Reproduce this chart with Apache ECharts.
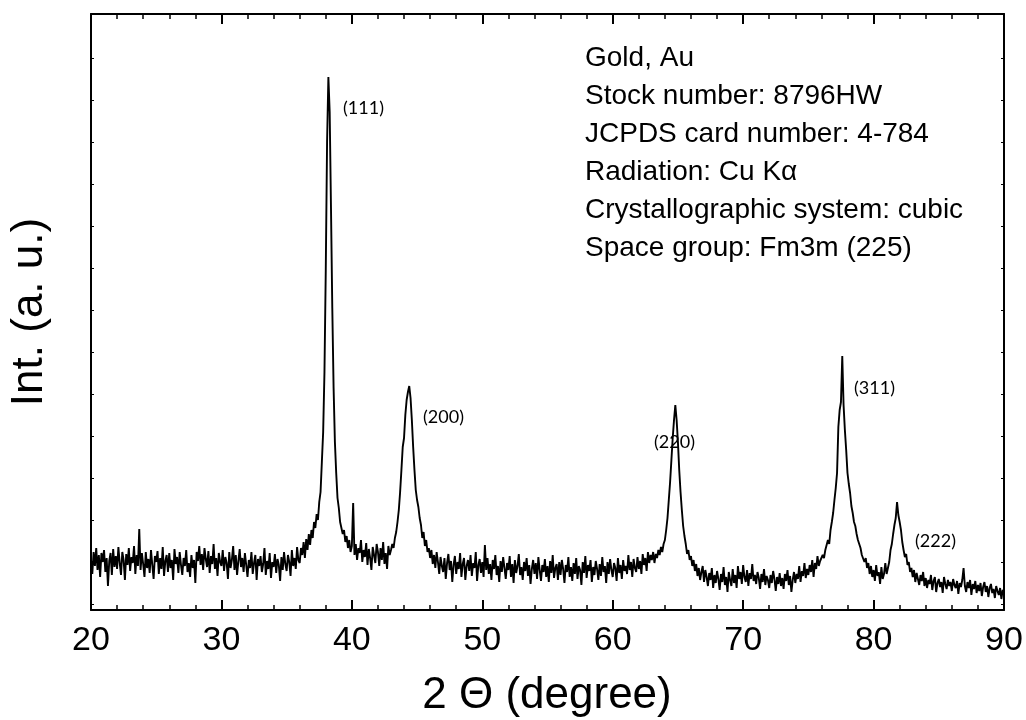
<!DOCTYPE html>
<html>
<head>
<meta charset="utf-8">
<script src="https://cdn.jsdelivr.net/npm/echarts@6/dist/echarts.min.js"></script>
<style>
html,body{margin:0;padding:0;background:#fff;}
#c{width:1026px;height:720px;}
</style>
</head>
<body>
<div id="c"></div>
<script>
// 2-theta grid: 20.0 .. 90.0 degrees, 0.1 degree step
var thetaStart = 20, thetaStep = 0.1;
// Intensity (a.u.), one row per degree (x.0 .. x.9)
var intensity = [
 50,36,58,44,62,40,55,33,57,48,   // 20
 60,38,52,24,49,57,35,61,43,54,   // 21
 41,63,47,35,58,50,30,56,45,62,   // 22
 39,53,47,64,36,55,44,81,40,57,   // 23
 46,33,58,42,51,37,60,45,31,54,   // 24
 48,59,36,52,41,63,34,49,55,38,   // 25
 57,42,50,30,61,46,53,37,58,45,   // 26
 35,52,44,60,38,47,33,55,42,50,   // 27
 27,58,49,64,45,56,40,62,51,43,   // 28
 59,37,54,46,66,41,52,34,57,48,   // 29
 44,60,39,53,47,31,58,42,50,64,   // 30
 40,55,35,49,61,43,52,38,57,45,   // 31
 33,50,42,58,36,47,55,30,51,44,   // 32
 54,38,46,62,35,49,41,57,32,48,   // 33
 43,56,37,51,45,29,53,40,58,46,   // 34
 39,55,48,34,60,44,52,41,63,50,   // 35
 47,62,55,68,52,71,60,76,65,80,   // 36
 72,88,82,96,90,108,118,148,178,238, // 37
 340,468,533,498,402,302,222,168,137,112, // 38
 102,88,90,76,80,68,74,62,70,58,  // 39
 64,107,55,66,50,62,57,70,48,60,  // 40
 53,67,45,61,52,40,63,55,47,66,   // 41
 58,44,62,50,68,46,57,41,64,55,   // 42
 60,66,62,72,78,88,100,118,140,163, // 43
 172,195,210,218,224,212,190,163,140,120, // 44
 110,103,92,85,72,78,64,70,58,62, // 45
 52,60,46,55,42,58,48,36,53,44,   // 46
 38,52,31,47,56,40,49,28,45,54,   // 47
 36,48,41,57,33,46,52,30,44,50,   // 48
 39,55,34,47,42,58,29,45,51,37,   // 49
 48,33,65,40,52,36,46,30,50,41,   // 50
 55,35,44,28,49,38,53,42,31,47,   // 51
 40,54,33,46,27,50,37,44,56,35,   // 52
 43,30,48,39,52,34,45,26,41,50,   // 53
 36,47,31,53,40,29,45,38,51,33,   // 54
 44,28,49,37,55,32,42,46,30,48,   // 55
 35,50,41,27,45,38,53,33,43,29,   // 56
 47,36,52,31,44,40,25,48,37,54,   // 57
 32,45,39,50,28,43,35,49,41,30,   // 58
 46,34,53,38,44,27,48,36,51,40,   // 59
 33,47,42,29,52,37,45,31,50,39,   // 60
 44,36,55,40,48,33,51,42,38,53,   // 61
 41,49,36,56,45,52,39,58,47,55,   // 62
 50,58,47,56,52,60,55,63,58,66,   // 63
 70,80,92,110,128,150,172,190,205,190, // 64
 168,140,118,100,84,74,66,56,60,50, // 65
 54,44,50,39,46,34,42,30,38,44,   // 66
 28,40,33,24,37,30,42,22,35,27,   // 67
 39,31,20,36,28,43,25,33,18,38,   // 68
 30,24,41,27,35,22,44,31,38,26,   // 69
 45,33,28,40,24,37,31,46,29,35,   // 70
 26,38,32,21,36,28,41,25,34,30,   // 71
 22,35,27,39,31,19,33,26,37,24,   // 72
 32,21,36,29,40,25,34,18,30,38,   // 73
 27,36,31,44,28,39,34,47,32,41,   // 74
 35,45,38,50,33,47,41,54,44,49,   // 75
 50,55,52,60,58,70,66,80,88,97,   // 76
 110,122,137,183,200,208,254,205,180,160, // 77
 137,126,117,104,97,88,84,76,70,66, // 78
 62,55,57,48,52,42,47,36,44,33,   // 79
 40,29,45,34,38,26,43,31,36,47,   // 80
 36,42,48,60,66,76,85,92,108,95,  // 81
 88,80,68,60,53,56,45,48,38,42,   // 82
 33,40,28,37,31,25,35,29,38,24,   // 83
 32,22,30,26,35,20,29,33,18,27,   // 84
 31,23,28,17,33,26,21,30,24,28,   // 85
 19,31,25,22,29,16,27,23,30,42,   // 86
 24,18,28,22,30,15,26,21,29,17,   // 87
 25,19,27,14,23,28,18,24,13,22,   // 88
 26,17,21,12,24,19,15,22,11,20,   // 89
 18                                // 90
];
var xTickLabels = ['20','30','40','50','60','70','80','90'];
var yTickValues = [6,48,90,132,174,216,258,300,342,384,426,468,510,552];
var peakLabels = ['(111)','(200)','(220)','(311)','(222)'];
var infoLines = ['Gold, Au','Stock number: 8796HW','JCPDS card number: 4-784','Radiation: Cu K\u03B1','Crystallographic system: cubic','Space group: Fm3m (225)'];

var seriesData = intensity.map(function(v,i){ return [+(thetaStart + i*thetaStep).toFixed(1), v]; });

var chart = echarts.init(document.getElementById('c'), null, {renderer:'canvas'});
var axisCommonX = {
  type:'value', min:20, max:90, interval:10,
  axisLine:{show:true, onZero:false, lineStyle:{color:'#000', width:2}},
  axisTick:{show:true, inside:true, length:10, lineStyle:{color:'#000', width:2}},
  minorTick:{show:true, splitNumber:5, length:5, lineStyle:{color:'#000', width:1.5}},
  splitLine:{show:false}, minorSplitLine:{show:false}
};
var axisCommonY = {
  type:'value', min:0, max:596,
  axisLine:{show:true, onZero:false, lineStyle:{color:'#000', width:2}},
  axisTick:{show:true, inside:true, length:3, customValues:yTickValues, lineStyle:{color:'#000', width:1}},
  axisLabel:{show:false},
  splitLine:{show:false}
};
var labelPos = [[343,108],[423,417],[654,442],[854,388],[915,541]];
var graphics = [];
peakLabels.forEach(function(t,i){
  graphics.push({type:'text', x:labelPos[i][0], y:labelPos[i][1], style:{text:t, font:'18px Lato', fill:'#000', textAlign:'left', textVerticalAlign:'middle'}});
});
infoLines.forEach(function(t,i){
  graphics.push({type:'text', x:585, y:58 + i*38, style:{text:t, font:'28px "Liberation Sans", Arial', fill:'#000', textAlign:'left', textVerticalAlign:'middle'}});
});
graphics.push({type:'text', x:547, y:696, style:{text:'2 \u0398 (degree)', font:'44px "Liberation Sans", Arial', fill:'#000', textAlign:'center', textVerticalAlign:'middle'}});
graphics.push({type:'text', x:30, y:312, rotation:Math.PI/2, style:{text:'Int. (a. u.)', font:'44px "Liberation Sans", Arial', fill:'#000', textAlign:'center', textVerticalAlign:'middle'}});

chart.setOption({
  animation:false,
  backgroundColor:'#fff',
  grid:{left:91, right:22, top:14, bottom:110, containLabel:false},
  xAxis:[
    Object.assign({}, axisCommonX, {position:'bottom', axisLabel:{show:true, color:'#000', fontSize:34, fontFamily:'Liberation Sans', margin:14, formatter:function(v){ var s=String(v); return xTickLabels.indexOf(s)>=0?s:''; }}}),
    Object.assign({}, axisCommonX, {position:'top', axisLabel:{show:false}})
  ],
  yAxis:[
    Object.assign({}, axisCommonY, {position:'left'}),
    Object.assign({}, axisCommonY, {position:'right'})
  ],
  series:[{
    type:'line', xAxisIndex:0, yAxisIndex:0, data:seriesData,
    showSymbol:false, symbol:'none', smooth:false,
    lineStyle:{color:'#000', width:1.9}
  }],
  graphic:graphics
});
</script>
</body>
</html>
